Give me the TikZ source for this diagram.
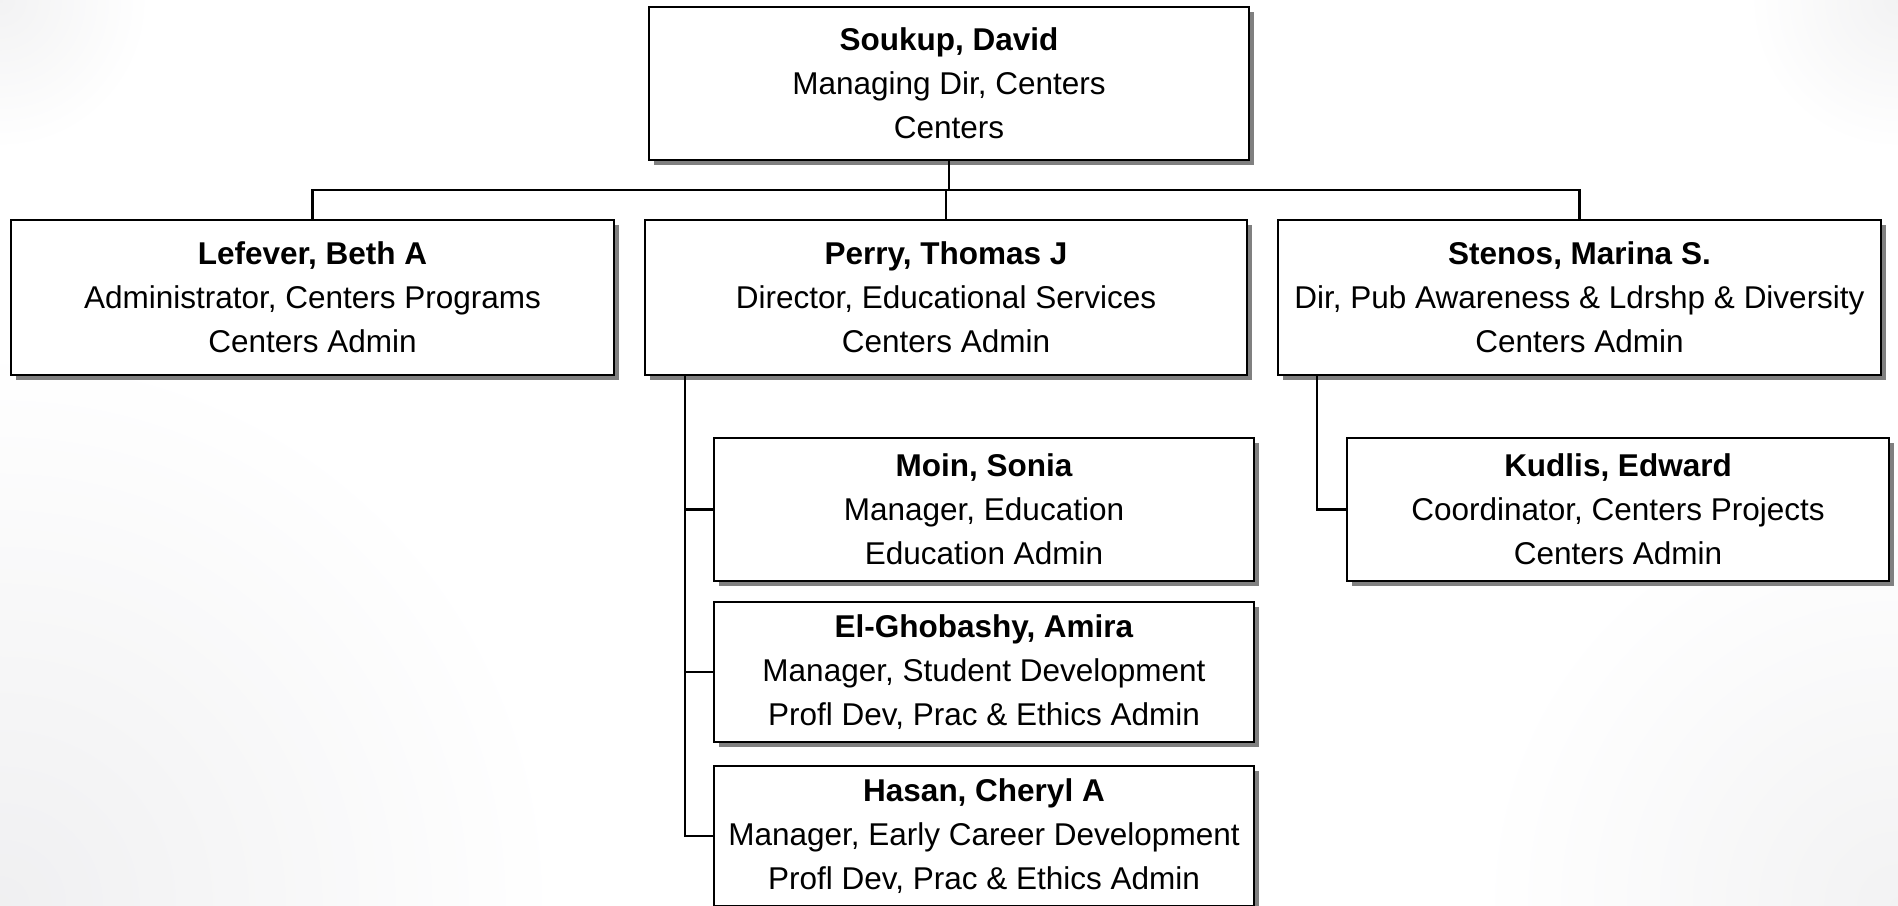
\documentclass[tikz,border=0pt]{standalone}
\usepackage{fontspec}
\setmainfont{Liberation Sans}
\usetikzlibrary{shadows}
\tikzset{
  person/.style={draw=black, line width=2.4pt, fill=white, align=center,
    inner sep=0pt, font=\fontsize{31.5}{44}\selectfont,
    drop shadow={shadow xshift=5pt, shadow yshift=-5pt, fill=black!50, opacity=1}},
  link/.style={draw=black, line width=2.4pt}
}
\begin{document}
\begin{tikzpicture}[x=1pt,y=-1pt]
\useasboundingbox (0,0) rectangle (1898,905);
% faint background texture
\begin{scope}
\clip (0,0) rectangle (1898,905);
\shade[inner color=blue!10!black!6, outer color=white] (0,905) circle (560);
\shade[inner color=blue!8!black!5, outer color=white] (0,0) circle (150);
\shade[inner color=blue!8!black!5, outer color=white] (1898,0) circle (150);
\shade[inner color=blue!8!black!5, outer color=white] (1898,905) circle (420);
\end{scope}

\node[person, minimum width=600pt, minimum height=153pt] (sou) at (949,83.5)
  {\textbf{Soukup, David}\\Managing Dir, Centers\\Centers};
\node[person, minimum width=603pt, minimum height=155pt] (lef) at (312.5,297.5)
  {\textbf{Lefever, Beth A}\\Administrator, Centers Programs\\Centers Admin};
\node[person, minimum width=602pt, minimum height=155pt] (per) at (946,297.5)
  {\textbf{Perry, Thomas J}\\Director, Educational Services\\Centers Admin};
\node[person, minimum width=603pt, minimum height=155pt] (ste) at (1579.5,297.5)
  {\textbf{Stenos, Marina S.}\\Dir, Pub Awareness \& Ldrshp \& Diversity\\Centers Admin};
\node[person, minimum width=540pt, minimum height=143pt] (moi) at (984,509.5)
  {\textbf{Moin, Sonia}\\Manager, Education\\Education Admin};
\node[person, minimum width=540pt, minimum height=140pt] (elg) at (984,672)
  {\textbf{El-Ghobashy, Amira}\\Manager, Student Development\\Profl Dev, Prac \& Ethics Admin};
\node[person, minimum width=540pt, minimum height=140pt] (has) at (984,836)
  {\textbf{Hasan, Cheryl A}\\Manager, Early Career Development\\Profl Dev, Prac \& Ethics Admin};
\node[person, minimum width=542pt, minimum height=143pt] (kud) at (1618,509.5)
  {\textbf{Kudlis, Edward}\\Coordinator, Centers Projects\\Centers Admin};

\coordinate (bus) at (0,190);
\coordinate (pv) at (685,0);
\coordinate (sv) at (1317,0);

\draw[link] (sou.south) -- (sou.south |- bus);
\draw[link] (lef.north) -- (lef.north |- bus) -- (ste.north |- bus) -- (ste.north);
\draw[link] (per.north |- bus) -- (per.north);
\draw[link] (pv |- per.south) -- (pv |- has.west) -- (has.west);
\draw[link] (pv |- moi.west) -- (moi.west);
\draw[link] (pv |- elg.west) -- (elg.west);
\draw[link] (sv |- ste.south) -- (sv |- kud.west) -- (kud.west);
\end{tikzpicture}
\end{document}
